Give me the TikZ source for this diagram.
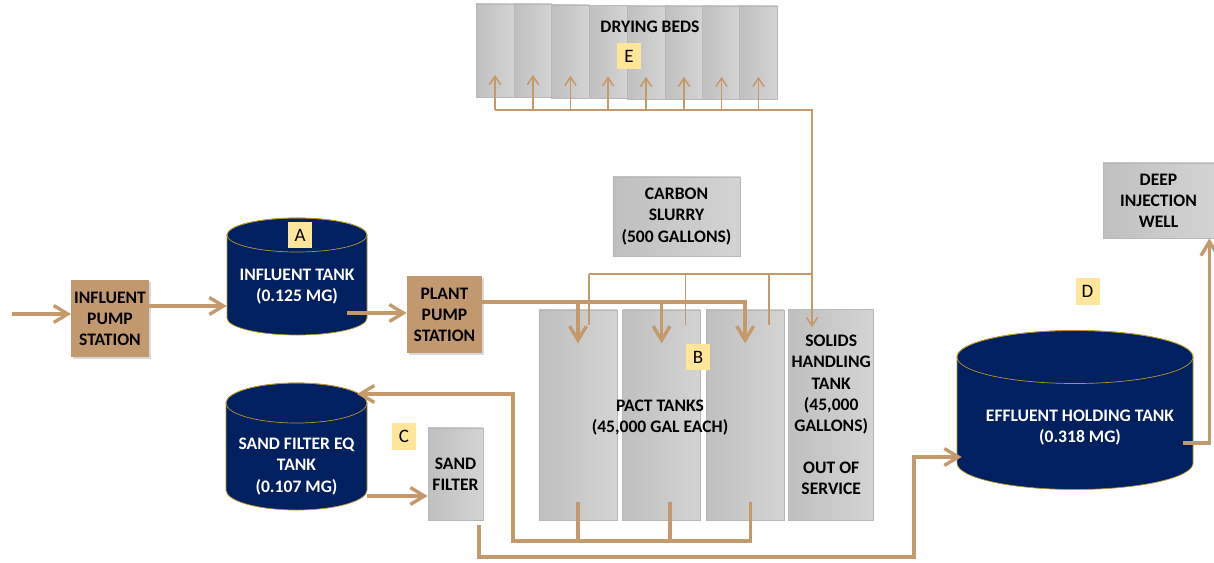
\documentclass[tikz,border=0pt]{standalone}
\usepackage{fontspec}
\setmainfont{Carlito}
\usetikzlibrary{arrows.meta,positioning,calc,shadows}
\definecolor{tanknavy}{RGB}{0,32,96}
\definecolor{tankrim}{RGB}{184,150,46}
\definecolor{pipetan}{RGB}{196,154,108}
\definecolor{pumptan}{RGB}{194,153,110}
\definecolor{taggold}{RGB}{255,230,153}
\tikzset{
  labelfont/.style={font=\fontsize{12.5}{15}\selectfont\bfseries},
  unitbox/.style={
    labelfont,draw=black!28,line width=0.4pt,align=center,inner sep=2pt,
    left color=black!25,right color=black!17
  },
  bedbox/.style={unitbox,minimum width=0.95cm,minimum height=2.325cm},
  pactbox/.style={unitbox,minimum width=1.95cm,minimum height=5.25cm},
  pumpbox/.style={
    labelfont,fill=pumptan,align=center,inner sep=2pt,
    minimum width=1.85cm,minimum height=1.925cm,
    drop shadow={shadow xshift=1.5pt,shadow yshift=-1.5pt,opacity=0.3}
  },
  tankbody/.style={fill=tanknavy,draw=tankrim,line width=0.5pt},
  tankrimline/.style={draw=tankrim,line width=0.5pt},
  tanktext/.style={labelfont,text=white,align=center,inner sep=0pt},
  tagbox/.style={fill=taggold,minimum width=0.6cm,minimum height=0.65cm,
    inner sep=0pt,font=\fontsize{13.5}{15}\selectfont},
  pipe/.style={draw=pipetan,line width=2.4pt},
  pipearrow/.style={pipe,-{Straight Barb[length=10pt,width=12pt]}},
  thinline/.style={draw=pipetan,line width=1.1pt},
  thinarrow/.style={thinline,-{Straight Barb[length=6pt,width=8pt]}}
}
\begin{document}
\begin{tikzpicture}[x=0.025cm,y=-0.025cm]
  \useasboundingbox (0,0) rectangle (1214,563);

  % drying beds
  \foreach \i/\x/\y in {1/495/50.5,2/533/50.5,3/570.5/51.5,4/608/52,
      5/646/52.5,6/684/52.5,7/721.5/52.5,8/758.5/52.5}
    \node[bedbox] (bed\i) at (\x,\y) {};
  \node[labelfont] (bedlabel) at (650,27) {DRYING BEDS};
  \node[tagbox] (tagE) at (629,56) {E};

  % pumps and boxes
  \node[pumpbox] (ips) at (110,318.5) {INFLUENT\\PUMP\\STATION};
  \node[pumpbox,minimum width=1.875cm] (pps) at (444.5,314.5) {PLANT\\PUMP\\STATION};
  \node[unitbox,minimum width=3.175cm,minimum height=1.975cm] (slurry) at (676.5,216.5)
    {CARBON\\SLURRY\\(500 GALLONS)};
  \node[unitbox,minimum width=2.775cm,minimum height=1.875cm] (well) at (1158.5,200.5)
    {DEEP\\INJECTION\\WELL};
  \node[unitbox,minimum width=1.375cm,minimum height=2.3cm] (sandfilter) at (455.5,474)
    {SAND\\FILTER};

  % pact tanks
  \node[pactbox] (pact1) at (578,415) {};
  \node[pactbox,right=0.125cm of pact1] (pact2) {};
  \node[pactbox,right=0.125cm of pact2] (pact3) {};
  \node[unitbox,minimum width=1.975cm,minimum height=5.275cm,right=0.1cm of pact3] (solids)
    {SOLIDS\\HANDLING\\TANK\\(45,000\\GALLONS)\\[15pt]OUT OF\\SERVICE};
  \node[labelfont,align=center] (pacttext) at (660,418) {PACT TANKS\\(45,000 GAL EACH)};
  \node[tagbox] (tagB) at (698,357) {B};

  % influent tank
  \filldraw[tankbody] (227,235) -- (227,318)
    arc[start angle=180,end angle=360,x radius=1.75cm,y radius=0.425cm] -- (367,235)
    arc[start angle=0,end angle=180,x radius=1.75cm,y radius=0.425cm] -- cycle;
  \draw[tankrimline] (297,235) ellipse[x radius=1.75cm,y radius=0.425cm];
  \node[tanktext,minimum width=3.5cm] (tankA) at (297,286.5) {INFLUENT TANK\\(0.125 MG)};
  \node[tagbox] (tagA) at (300,235) {A};

  % sand filter eq tank
  \filldraw[tankbody] (226,403) -- (226,490)
    arc[start angle=180,end angle=360,x radius=1.7625cm,y radius=0.5cm] -- (367,403)
    arc[start angle=0,end angle=180,x radius=1.7625cm,y radius=0.5cm] -- cycle;
  \draw[tankrimline] (296.5,403) ellipse[x radius=1.7625cm,y radius=0.5cm];
  \node[tanktext,minimum width=3.525cm] (tankC) at (296.5,466.5) {SAND FILTER EQ\\TANK\\(0.107 MG)};
  \node[tagbox] (tagC) at (404,436.5) {C};

  % effluent holding tank
  \filldraw[tankbody] (957,357) -- (957,463)
    arc[start angle=180,end angle=360,x radius=2.95cm,y radius=0.6625cm] -- (1193,357)
    arc[start angle=0,end angle=180,x radius=2.95cm,y radius=0.6625cm] -- cycle;
  \draw[tankrimline] (1075,357) ellipse[x radius=2.95cm,y radius=0.6625cm];
  \node[tanktext,minimum width=5.9cm] (tankD) at (1080,427.5) {EFFLUENT HOLDING TANK\\(0.318 MG)};
  \node[tagbox] (tagD) at (1087.5,291.5) {D};

  % influent line
  \coordinate (inflow) at (12,314);
  \draw[pipearrow] (inflow) -- (inflow -| ips.west);
  \draw[pipearrow] (ips.east |- 0,306) -- (tankA.west |- 0,306);
  \draw[pipearrow] ($(tankA.east |- 0,313)-(20,0)$) -- (pps.west |- 0,313);

  % feed to pact tanks
  \draw[pipearrow] (pps.east |- 0,302) -| ([yshift=-24pt]pact3.north);
  \foreach \i in {1,2}
    \draw[pipearrow] (pact\i.north |- 0,302) -- ([yshift=-24pt]pact\i.north);

  % carbon dosing
  \coordinate (dosejunction) at (812,274);
  \draw[thinline] ([xshift=8pt]pact1.north |- dosejunction) -- (dosejunction);
  \foreach \i/\dx in {1/8pt,2/17pt,3/17pt}
    \draw[thinline] ([xshift=\dx]pact\i.north |- dosejunction) -- ([xshift=\dx,yshift=-11pt]pact\i.north);

  % sludge to solids tank and drying beds
  \coordinate (bedjunction) at (812,110);
  \draw[thinarrow] (bed1.south |- bedjunction) -- (bedjunction)
    -- ($(bedjunction |- solids.north)+(0,18)$);
  \foreach \i in {1,...,8}
    \draw[thinarrow] (bed\i.south |- bedjunction) -- ([yshift=16pt]bed\i.south);

  % pact effluent back to eq tank
  \coordinate (collect) at (513,541);
  \coordinate (eqinlet) at (357,394);
  \draw[pipearrow] ([xshift=4pt,yshift=13pt]pact3.south) |- (collect) |- (eqinlet);
  \foreach \i/\dx in {1/0pt,2/6pt}
    \draw[pipe] ([xshift=\dx,yshift=13pt]pact\i.south) -- ([xshift=\dx]pact\i.south |- collect);

  % eq tank to sand filter to effluent tank
  \draw[pipearrow] (tankC.east |- 0,496) -- (sandfilter.west |- 0,496);
  \coordinate (effturn) at (914,557);
  \draw[pipearrow] ([xshift=-3pt,yshift=-3pt]sandfilter.south east) |- (effturn)
    |- (tankD.west |- 0,457);

  % effluent to injection well
  \draw[pipearrow] ($(tankD.east |- 0,443)-(15,0)$) -| ([xshift=-3.5pt]well.south east);
\end{tikzpicture}
\end{document}
